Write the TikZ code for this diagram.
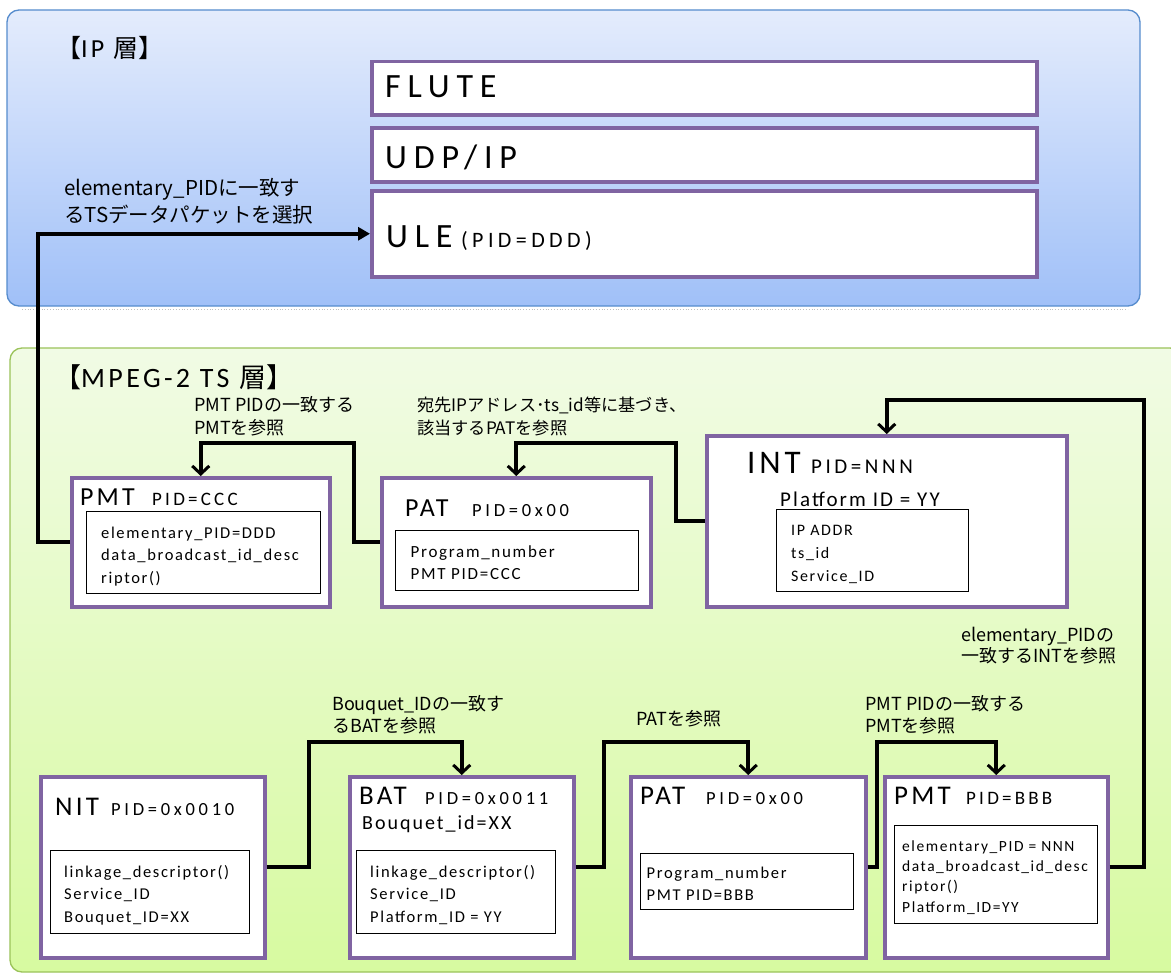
\documentclass[tikz,border=0pt]{standalone}
\usepackage{fontspec}
\setmainfont{Carlito}
\newfontfamily\jpf{Noto Sans CJK JP}
\newfontfamily\bodyf[LetterSpace=10]{Carlito}
\newfontfamily\titf[LetterSpace=12]{Carlito}
\newfontfamily\pidf[LetterSpace=20]{Carlito}
\newfontfamily\pidg[LetterSpace=17]{Carlito}
\usetikzlibrary{arrows.meta,calc}
\newcommand\fsz[2]{\fontsize{#1}{#2}\selectfont}
\definecolor{purp}{RGB}{128,100,162}
\definecolor{ipTop}{RGB}{228,236,252}
\definecolor{ipBot}{RGB}{160,192,248}
\definecolor{ipBorder}{RGB}{86,140,205}
\definecolor{mgTop}{RGB}{241,251,229}
\definecolor{mgBot}{RGB}{215,250,160}
\definecolor{mgBorder}{RGB}{155,195,90}
\begin{document}
\begin{tikzpicture}[x=1pt,y=-1pt,
  pbox/.style={draw=purp,line width=3.5pt,fill=white,inner sep=0pt,anchor=north west},
  ibox/.style={draw=black,line width=1.3pt,fill=white,inner sep=0pt,anchor=north west},
  txt/.style={inner sep=0pt,anchor=base west},
  body/.style={txt,align=left},
  lab/.style={inner sep=0pt,anchor=west,align=left},
  conn/.style={line width=4pt,black},
  barb/.style={conn,-{Straight Barb[length=8pt,width=17pt,line width=3pt]}},
  tri/.style={conn,-{Triangle[length=12pt,width=13pt]}}
]
\useasboundingbox (0,0) rectangle (1171,974);
\fill[white] (0,0) rectangle (1171,974);

% IP layer
\shade[top color=ipTop,bottom color=ipBot,rounded corners=12pt] (7,10) rectangle (1140,306);
\draw[ipBorder,line width=1.3pt,rounded corners=12pt] (7,10) rectangle (1140,306);
\draw[black!25,dotted,line width=0.8pt] (22,309.5) -- (1128,309.5);

% MPEG layer
\begin{scope}
\clip (0,0) rectangle (1171,974);
\shade[top color=mgTop,bottom color=mgBot,rounded corners=12pt] (10,348) rectangle (1182,972);
\draw[mgBorder,line width=1.3pt,rounded corners=12pt] (10,348) rectangle (1182,972);
\end{scope}

\node[lab] (iptitle) at (56,48) {{\jpf\fsz{25}{28}【}{\titf\fsz{26}{28}IP }{\jpf\fsz{25}{28}層】}};
\node[lab] (mgtitle) at (54,377) {{\jpf\fsz{27}{30}【}{\titf\fsz{28}{30}MPEG-2 TS }{\jpf\fsz{27}{30}層】}};

% IP boxes
\node[pbox,minimum width=665,minimum height=53] (flute) at (370,60) {};
\node[pbox,minimum width=665,minimum height=54] (udp) at (370,126) {};
\node[pbox,minimum width=665,minimum height=86] (ule) at (370,189) {};
\node[txt] (flutet) at (385,98) {\pidf\fsz{34}{36}FLUTE};
\node[txt] (udpt) at (385,168) {\pidf\fsz{34}{36}UDP/IP};
\node[txt] (ulet) at (386,247) {\pidf\fsz{34}{36}ULE};
\node[txt] (ulep) at (461,247) {\pidf\fsz{22}{24}(PID=DDD)};

% MPEG boxes
\node[pbox,minimum width=258,minimum height=129] (pmt1) at (70,476) {};
\node[pbox,minimum width=269,minimum height=129] (pat1) at (380,476) {};
\node[pbox,minimum width=360,minimum height=171] (int) at (705,434) {};
\node[pbox,minimum width=224,minimum height=181] (nit) at (39,775) {};
\node[pbox,minimum width=224,minimum height=181] (bat) at (348,775) {};
\node[pbox,minimum width=235,minimum height=181] (pat2) at (629,775) {};
\node[pbox,minimum width=223,minimum height=181] (pmt2) at (883,775) {};

\node[ibox,minimum width=234,minimum height=82] (pmt1in) at (86,511) {};
\node[ibox,minimum width=243,minimum height=60] (pat1in) at (395,530) {};
\node[ibox,minimum width=192,minimum height=82] (intin) at (776,509) {};
\node[ibox,minimum width=199,minimum height=83] (nitin) at (50,850) {};
\node[ibox,minimum width=199,minimum height=83] (batin) at (356,850) {};
\node[ibox,minimum width=213,minimum height=56] (pat2in) at (640,853) {};
\node[ibox,minimum width=203,minimum height=98] (pmt2in) at (894,825) {};

% titles
\node[txt] (pmt1t) at (80,505) {\titf\fsz{26}{28}PMT};
\node[txt] (pmt1p) at (152,505) {\pidg\fsz{19}{20}PID=CCC};
\node[txt] (pat1t) at (405,516) {\titf\fsz{26}{28}PAT};
\node[txt] (pat1p) at (472,516) {\pidf\fsz{18.5}{20}PID=0x00};
\node[txt] (intt) at (747,473) {\titf\fsz{33}{35}INT};
\node[txt] (intp) at (811,473) {\pidg\fsz{21}{23}PID=NNN};
\node[txt] (intpl) at (780,506) {\bodyf\fsz{21}{23}Platform ID = YY};
\node[txt] (nitt) at (55,815) {\titf\fsz{27}{29}NIT};
\node[txt] (nitp) at (111,815) {\pidf\fsz{18.5}{20}PID=0x0010};
\node[txt] (batt) at (359,804) {\titf\fsz{27}{29}BAT};
\node[txt] (batp) at (425,804) {\pidf\fsz{18.5}{20}PID=0x0011};
\node[txt] (batb) at (362,829) {\bodyf\fsz{20}{22}Bouquet\_id=XX};
\node[txt] (pat2t) at (640,804) {\titf\fsz{27}{29}PAT};
\node[txt] (pat2p) at (706,804) {\pidf\fsz{18.5}{20}PID=0x00};
\node[txt] (pmt2t) at (894,804) {\titf\fsz{27}{29}PMT};
\node[txt] (pmt2p) at (966,804) {\pidg\fsz{19}{20}PID=BBB};

% body text (anchored at the baseline of the last line)
\node[body,font={\bodyf\fsz{16.5}{22.5}}] (pmt1b) at (101,583) {elementary\_PID=DDD\\data\_broadcast\_id\_desc\\riptor()};
\node[body,font={\bodyf\fsz{17}{22}}] (pat1b) at (410.5,579) {Program\_number\\PMT PID=CCC};
\node[body,font={\bodyf\fsz{16}{23}}] (intb) at (791,581) {IP ADDR\\ts\_id\\Service\_ID};
\node[body,font={\bodyf\fsz{16.5}{22.5}}] (nitb) at (64,922) {linkage\_descriptor()\\Service\_ID\\Bouquet\_ID=XX};
\node[body,font={\bodyf\fsz{16.5}{22.5}}] (batb2) at (370,922) {linkage\_descriptor()\\Service\_ID\\Platform\_ID = YY};
\node[body,font={\bodyf\fsz{16.5}{22}}] (pat2b) at (646.5,900) {Program\_number\\PMT PID=BBB};
\node[body,font={\bodyf\fsz{15.5}{20.3}}] (pmt2b) at (902,912) {elementary\_PID = NNN\\data\_broadcast\_id\_desc\\riptor()\\Platform\_ID=YY};

% labels
\node[lab,font={\jpf\fsz{20.5}{27}}] (l1) at (64,201.5) {elementary\_PIDに一致す\\るTSデータパケットを選択};
\node[lab,font={\jpf\fsz{18}{23}}] (l2) at (194,416.5) {PMT PIDの一致する\\PMTを参照};
\node[lab,font={\jpf\fsz{17.2}{23}}] (l3) at (417,416.5) {宛先IPアドレス･ts\_id等に基づき、\\該当するPATを参照};
\node[lab,font={\jpf\fsz{18}{21}}] (l4) at (961,645.5) {elementary\_PIDの\\一致するINTを参照};
\node[lab,font={\jpf\fsz{18}{22}}] (l5) at (332,715) {Bouquet\_IDの一致す\\るBATを参照};
\node[lab,font={\jpf\fsz{18}{22}}] (l6) at (636,719) {PATを参照};
\node[lab,font={\jpf\fsz{18}{22}}] (l7) at (865,715) {PMT PIDの一致する\\PMTを参照};

% connectors
\draw[tri] (pmt1.west) -- ++(-32,0) |- (ule.west);
\draw[barb] (pat1.west) -- ++(-26,0) |- ($(pmt1.north)+(0,-33)$) -- (pmt1.north);
\draw[barb] (int.west) -- ++(-29,0) |- ($(pat1.north)+(0,-33)$) -- (pat1.north);
\draw[barb] (pmt2.east) -- ++(34,0) |- ($(int.north)+(0,-34)$) -- (int.north);
\draw[barb] (nit.east) -- ++(42,0) |- ($(bat.north)+(0,-33)$) -- (bat.north);
\draw[barb] (bat.east) -- ++(28,0) |- ($(pat2.north)+(0,-33)$) -- (pat2.north);
\draw[barb] (pat2.east) -- ++(9,0) |- ($(pmt2.north)+(0,-33)$) -- (pmt2.north);
\end{tikzpicture}
\end{document}
